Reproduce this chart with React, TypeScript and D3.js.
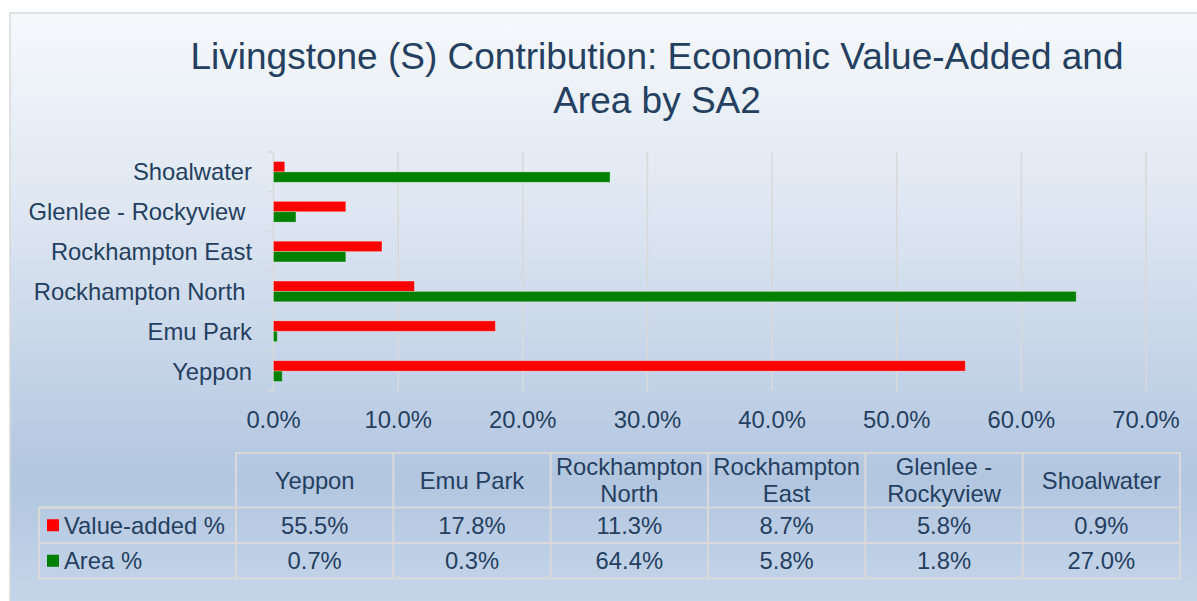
import React from "react";
import * as d3 from "d3";

const categories = ["Yeppon", "Emu Park", "Rockhampton North", "Rockhampton East", "Glenlee - Rockyview", "Shoalwater"];
const axisLabels = ["Yeppon", "Emu Park", "Rockhampton North ", "Rockhampton East", "Glenlee - Rockyview ", "Shoalwater"];
const headerLines = [["Yeppon"], ["Emu Park"], ["Rockhampton", "North"], ["Rockhampton", "East"], ["Glenlee -", "Rockyview"], ["Shoalwater"]];
const valueAdded = [55.5, 17.8, 11.3, 8.7, 5.8, 0.9];
const area = [0.7, 0.3, 64.4, 5.8, 1.8, 27.0];
const seriesNames = ["Value-added %", "Area %"];
const seriesColors = ["#ff0000", "#008000"];
const xTicks = [0, 10, 20, 30, 40, 50, 60, 70];

const W = 1197, H = 601;
const TXT = "#243f60";
const FONT = "'Liberation Sans', Arial, sans-serif";
const GRID = "#d9d9d9";
const FS = 23.8;

export default function App() {
  const x = d3.scaleLinear().domain([0, 70]).range([273.5, 1146]);
  // Yeppon at bottom
  const y = d3.scaleBand<string>().domain([...categories].reverse()).range([152, 391]).paddingInner(0.48).paddingOuter(0.24);
  const inner = d3.scaleBand<string>().domain(seriesNames).range([0, y.bandwidth()]);
  const series = [valueAdded, area];

  const tableLeft = 236, colW = (1180 - 236) / categories.length;
  const col = d3.scaleBand<string>().domain(categories).range([tableLeft, tableLeft + colW * categories.length]);
  const rowTops = [453, 507.5, 543, 578.5];
  const legendLeft = 39;

  const fmt = (v: number) => d3.format(".1f")(v) + "%";

  const tickYs = d3.range(categories.length + 1).map(i => 152 + i * (239 / categories.length));

  return (
    <svg width={W} height={H} style={{ position: "absolute", left: 0, top: 0, fontFamily: FONT }}>
      <defs>
        <linearGradient id="bg" x1="0" y1="0" x2="0" y2="1">
          <stop offset="0" stopColor="#f6f9fc" />
          <stop offset="0.35" stopColor="#dce5f1" />
          <stop offset="0.78" stopColor="#b2c6e0" />
          <stop offset="1" stopColor="#c7d7ea" />
        </linearGradient>
      </defs>
      <rect x={0} y={0} width={W} height={H} fill="#ffffff" />
      <rect x={10} y={13} width={1200} height={600} fill="url(#bg)" stroke="#d9d9d9" strokeWidth={1.5} />

      <text x={657} y={69} textAnchor="middle" fontSize={37} fill={TXT}>Livingstone (S) Contribution: Economic Value-Added and</text>
      <text x={657} y={113} textAnchor="middle" fontSize={37} fill={TXT}>Area by SA2</text>

      {/* gridlines */}
      {xTicks.slice(1).map(t => (
        <line key={t} x1={x(t)} x2={x(t)} y1={152} y2={391} stroke={GRID} strokeWidth={1.5} />
      ))}
      {/* axis line and ticks */}
      <line x1={x(0)} x2={x(0)} y1={152} y2={391} stroke={GRID} strokeWidth={1.5} />
      {tickYs.map((ty, i) => (
        <line key={i} x1={x(0) - 6} x2={x(0)} y1={ty} y2={ty} stroke={GRID} strokeWidth={1.5} />
      ))}

      {/* bars */}
      {categories.map((c, i) => (
        <g key={c}>
          {series.map((s, j) => (
            <rect key={j} x={x(0)} y={(y(c) as number) + (inner(seriesNames[j]) as number)} width={x(s[i]) - x(0)} height={inner.bandwidth()} fill={seriesColors[j]} stroke="rgba(255,255,255,0.35)" strokeWidth={0.8} />
          ))}
        </g>
      ))}

      {/* category labels */}
      {categories.map((c, i) => (
        <text key={c} x={252} y={(y(c) as number) + y.bandwidth() / 2 + 8.5} textAnchor="end" fontSize={FS} fill={TXT} style={{ whiteSpace: "pre" }} xmlSpace="preserve">{axisLabels[i]}</text>
      ))}

      {/* x tick labels */}
      {xTicks.map(t => (
        <text key={t} x={x(t)} y={428} textAnchor="middle" fontSize={FS} fill={TXT}>{d3.format(".1f")(t) + "%"}</text>
      ))}

      {/* data table */}
      <g stroke={GRID} strokeWidth={2} fill="none">
        <rect x={tableLeft} y={rowTops[0]} width={colW * categories.length} height={rowTops[3] - rowTops[0]} />
        <rect x={legendLeft} y={rowTops[1]} width={tableLeft - legendLeft} height={rowTops[3] - rowTops[1]} />
        <line x1={legendLeft} x2={tableLeft + colW * categories.length} y1={rowTops[1]} y2={rowTops[1]} />
        <line x1={legendLeft} x2={tableLeft + colW * categories.length} y1={rowTops[2]} y2={rowTops[2]} />
        {categories.slice(1).map(c => (
          <line key={c} x1={col(c)} x2={col(c)} y1={rowTops[0]} y2={rowTops[3]} />
        ))}
      </g>
      {categories.map((c, i) => {
        const cx = (col(c) as number) + colW / 2;
        const lines = headerLines[i];
        const mid = (rowTops[0] + rowTops[1]) / 2;
        const lh = 27;
        const start = mid - ((lines.length - 1) * lh) / 2 + 8.5;
        return (
          <g key={c}>
            {lines.map((l, k) => (
              <text key={k} x={cx} y={start + k * lh} textAnchor="middle" fontSize={FS} fill={TXT}>{l}</text>
            ))}
            {series.map((s, j) => (
              <text key={j} x={cx} y={(rowTops[j + 1] + rowTops[j + 2]) / 2 + 8.5} textAnchor="middle" fontSize={FS} fill={TXT}>{fmt(s[i])}</text>
            ))}
          </g>
        );
      })}
      {seriesNames.map((n, j) => {
        const my = (rowTops[j + 1] + rowTops[j + 2]) / 2;
        return (
          <g key={n}>
            <rect x={47} y={my - 6} width={12} height={12} fill={seriesColors[j]} />
            <text x={64} y={my + 8.5} fontSize={FS} fill={TXT}>{n}</text>
          </g>
        );
      })}
    </svg>
  );
}
